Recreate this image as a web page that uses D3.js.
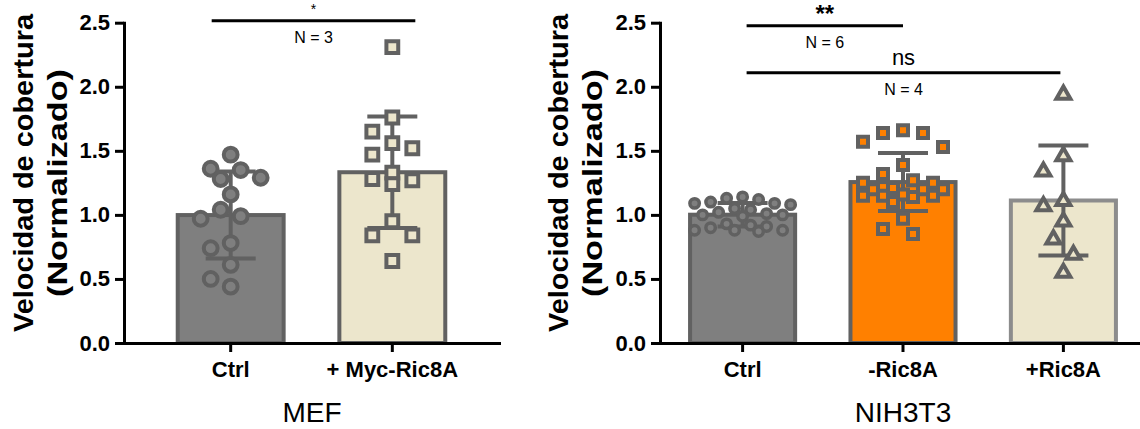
<!DOCTYPE html>
<html>
<head>
<meta charset="utf-8">
<script src="https://cdn.jsdelivr.net/npm/d3@7"></script>
<style>
  body { margin: 0; background: #fff; }
  svg { display: block; font-family: "Liberation Sans", Arial, sans-serif; }
</style>
</head>
<body>
<svg id="chart" width="1140" height="429"></svg>
<script>
// values (normalised migration speed)
const yTicks = [0, 0.5, 1.0, 1.5, 2.0, 2.5]

const mefGroups = ["Ctrl", "+ Myc-Ric8A"]
const mefCtrl = [1.47, 1.36, 1.35, 1.29, 1.28, 1.16, 1.04, 0.99, 0.97, 0.78, 0.74, 0.61, 0.50, 0.44]
const mefMyc = [2.31, 1.76, 1.65, 1.56, 1.52, 1.47, 1.33, 1.28, 1.24, 1.27, 0.95, 0.84, 0.84, 0.64]

const nihGroups = ["Ctrl", "-Ric8A", "+Ric8A"]
const nihCtrl = [1.13, 1.10, 1.09, 1.05, 1.08, 1.09, 1.12, 1.14, 1.00, 1.01, 1.00, 1.02,
                 0.92, 0.90, 0.87, 0.88, 0.88, 0.88, 0.91, 0.93, 1.04, 0.99]
const nihMinus = [1.64, 1.57, 1.53, 1.64, 1.66, 1.39, 1.27, 1.25, 1.25, 1.32, 1.20, 1.14,
                  1.10, 1.16, 1.15, 1.20, 1.21, 1.20, 0.97, 0.85, 0.89, 1.15, 1.15]
const nihPlus = [1.95, 1.47, 1.35, 1.12, 1.08, 0.96, 0.82, 0.70, 0.56]

const svg = d3.select("#chart")

const y = d3.scaleLinear().domain([0, 2.5]).range([343, 22.7])

const grayFill = "#7f7f7f", beige = "#ece6cc", orange = "#ff8000", darkLine = "#616161"

// simple greedy beeswarm: each point goes to the nearest free column slot
function swarm(values, cx, step, minDist, maxK) {
	let placed = []
	let sorted = values.map((v, i) => ({v: v, i: i})).sort((a, b) => b.v - a.v)
	sorted.forEach(function(d){
		let py = y(d.v)
		let best = null
		let bestScore = -1
		for (let n = 0; n <= maxK * 2; n++) {
			let k = n == 0 ? 0 : (n % 2 == 1 ? -Math.ceil(n / 2) : Math.ceil(n / 2))
			let px = cx + k * step
			let dmin = d3.min(placed, p => Math.hypot(p.x - px, p.y - py))
			if (dmin == undefined || dmin >= minDist) { best = px; break }
			if (dmin > bestScore) { bestScore = dmin; best = px }
		}
		placed.push({x: best, y: py, v: d.v})
	})
	return placed
}

function drawPanel(opt) {
	let x = d3.scaleBand()
		.domain(opt.groups)
		.range(opt.xRange)
		.paddingInner(0.32)
		.paddingOuter(opt.padOuter)

	let g = svg.append("g")

	// bars
	opt.series.forEach(function(s, i){
		let name = opt.groups[i]
		let mean = d3.mean(s.values)
		g.append("rect")
			.attr("x", x(name) + 2)
			.attr("y", y(mean))
			.attr("width", x.bandwidth() - 4)
			.attr("height", y(0) - y(mean))
			.attr("fill", s.fill)
			.attr("stroke", s.stroke)
			.attr("stroke-width", 4)
	})

	// error bars (mean +- SD)
	opt.series.forEach(function(s, i){
		let cx = x(opt.groups[i]) + x.bandwidth() / 2
		let mean = d3.mean(s.values)
		let sd = d3.deviation(s.values)
		let eb = g.append("g").attr("stroke", darkLine).attr("stroke-width", 4)
		eb.append("line").attr("x1", cx).attr("x2", cx).attr("y1", y(mean + sd)).attr("y2", y(mean - sd))
		;[mean + sd, mean - sd].forEach(v => {
			eb.append("line").attr("x1", cx - 25).attr("x2", cx + 25).attr("y1", y(v)).attr("y2", y(v))
		})
	})

	// individual points
	opt.series.forEach(function(s, i){
		let cx = x(opt.groups[i]) + x.bandwidth() / 2
		let pts = swarm(s.values, cx, s.step, s.minDist, s.maxK)
		let sym = d3.symbol().type(s.shape).size(s.size)
		g.selectAll(null)
			.data(pts)
			.join("path")
			.attr("d", sym)
			.attr("transform", d => `translate(${d.x},${d.y + (s.shape == d3.symbolTriangle ? 1.5 : 0)})`)
			.attr("fill", s.markFill)
			.attr("stroke", darkLine)
			.attr("stroke-width", s.markStroke)
	})

	// axes
	let yAxis = g.append("g")
		.attr("transform", `translate(${opt.xRange[0]},0)`)
		.call(d3.axisLeft(y).tickValues(yTicks).tickFormat(d3.format(".1f")).tickSize(9).tickSizeOuter(0).tickPadding(5))
	let xAxis = g.append("g")
		.attr("transform", `translate(0,${y(0)})`)
		.call(d3.axisBottom(x).tickSize(9).tickSizeOuter(0).tickPadding(9))

	;[yAxis, xAxis].forEach(a => {
		a.select(".domain").attr("stroke", "#000").attr("stroke-width", 3).attr("stroke-linecap", "square")
		a.selectAll(".tick line").attr("stroke", "#000").attr("stroke-width", 3)
		a.selectAll(".tick text")
			.attr("fill", "#000")
			.attr("font-size", 22)
			.attr("font-weight", "bold")
			.attr("font-family", "Liberation Sans, Arial, sans-serif")
	})

	// y title, two lines
	opt.yTitle.forEach(function(t){
		g.append("text")
			.attr("transform", `translate(${t.x},${t.cy}) rotate(-90)`)
			.attr("text-anchor", "middle")
			.attr("font-size", 27)
			.attr("font-weight", "bold")
			.attr("textLength", t.len)
			.attr("lengthAdjust", "spacingAndGlyphs")
			.text(t.text)
	})

	// group title under the axis
	g.append("text")
		.attr("x", opt.titleX)
		.attr("y", 422)
		.attr("text-anchor", "middle")
		.attr("font-size", 28)
		.text(opt.title)

	// significance lines
	opt.sig.forEach(function(c){
		let x1 = x(opt.groups[c.a]) + x.bandwidth() / 2 + c.pad1
		let x2 = x(opt.groups[c.b]) + x.bandwidth() / 2 + c.pad2
		let mid = (x1 + x2) / 2
		g.append("line")
			.attr("x1", x1).attr("x2", x2)
			.attr("y1", c.y).attr("y2", c.y)
			.attr("stroke", "#000").attr("stroke-width", 3)
		g.append("text")
			.attr("x", mid).attr("y", c.labelY)
			.attr("text-anchor", "middle")
			.attr("font-size", c.labelSize)
			.attr("font-weight", c.bold ? "bold" : "normal")
			.text(c.label)
		g.append("text")
			.attr("x", mid).attr("y", c.y + 22)
			.attr("text-anchor", "middle")
			.attr("font-size", 16)
			.text(c.n)
	})
}

drawPanel({
	groups: mefGroups,
	xRange: [124, 499],
	padOuter: 0.32,
	series: [
		{values: mefCtrl, fill: grayFill, stroke: darkLine, shape: d3.symbolCircle, size: 150, markFill: grayFill, markStroke: 4, step: 10, minDist: 18, maxK: 3},
		{values: mefMyc, fill: beige, stroke: darkLine, shape: d3.symbolSquare, size: 140, markFill: beige, markStroke: 4, step: 10, minDist: 18, maxK: 3}
	],
	yTitle: [{text: "Velocidad de cobertura", x: 33, cy: 173, len: 318}, {text: "(Normalizado)", x: 67, cy: 183, len: 228}],
	title: "MEF",
	titleX: 312,
	sig: [{a: 0, b: 1, pad1: -19, pad2: 23, y: 20.7, label: "*", labelY: 14, labelSize: 14, bold: false, n: "N = 3"}]
})

drawPanel({
	groups: nihGroups,
	xRange: [660, 1146],
	padOuter: 0.175,
	series: [
		{values: nihCtrl, fill: grayFill, stroke: darkLine, shape: d3.symbolCircle, size: 70, markFill: grayFill, markStroke: 3.5, step: 8, minDist: 12, maxK: 6},
		{values: nihMinus, fill: orange, stroke: darkLine, shape: d3.symbolSquare, size: 100, markFill: orange, markStroke: 4, step: 10, minDist: 18, maxK: 4},
		{values: nihPlus, fill: beige, stroke: "#8c8c8c", shape: d3.symbolTriangle, size: 85, markFill: beige, markStroke: 4, step: 10, minDist: 20, maxK: 2}
	],
	yTitle: [{text: "Velocidad de cobertura", x: 568, cy: 173, len: 318}, {text: "(Normalizado)", x: 602, cy: 183, len: 228}],
	title: "NIH3T3",
	titleX: 903,
	sig: [
		{a: 0, b: 1, pad1: 4, pad2: 0, y: 25.7, label: "**", labelY: 22, labelSize: 24, bold: true, n: "N = 6"},
		{a: 0, b: 2, pad1: 4, pad2: -3, y: 72.7, label: "ns", labelY: 65, labelSize: 22, bold: false, n: "N = 4"}
	]
})
</script>
</body>
</html>
